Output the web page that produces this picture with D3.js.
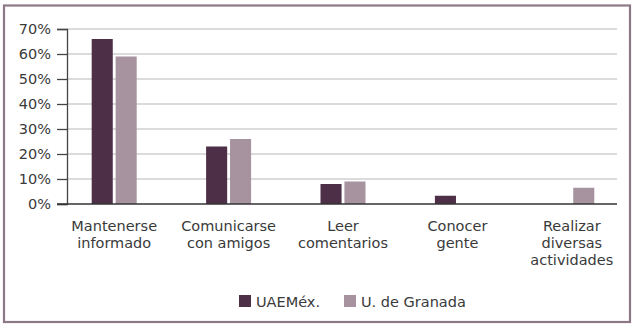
<!DOCTYPE html>
<html><head><meta charset="utf-8">
<script src="https://cdn.jsdelivr.net/npm/d3@7"></script>
<style>body{margin:0;background:#fff}svg{display:block}</style>
</head><body><svg id="c" width="639" height="328"></svg>
<script>
const categories = [["Mantenerse","informado"],["Comunicarse","con amigos"],["Leer","comentarios"],["Conocer","gente"],["Realizar","diversas","actividades"]];
const seriesNames = ["UAEMéx.","U. de Granada"];
const uaemex = [66, 23, 8, 3.3, 0];
const granada = [59, 26, 9, 0, 6.5];
const yTicks = [0,10,20,30,40,50,60,70];
const colors = ["#4d2f48","#a6939f"];

(function(){
const svg = d3.select("#c");
const font = "'DejaVu Sans', sans-serif";
const fs = 14.5;
const textColor = "#3a3a3a";
svg.append("rect").attr("x",4).attr("y",5.5).attr("width",626).attr("height",316.5)
  .attr("fill","none").attr("stroke","#8d7888").attr("stroke-width",2.2);

const pLeft=67, pRight=617, pTop=29, pBottom=204;
const y = d3.scaleLinear().domain([0,70]).range([pBottom,pTop]);
const keys = categories.map((c,i)=>i);
const x = d3.scaleBand().domain(keys).range([57,629]);
const x1 = d3.scaleBand().domain([0,1]).range([0,45]).paddingInner(0.12);

svg.append("g").selectAll("line").data(yTicks.filter(t=>t>0)).join("line")
  .attr("x1",pLeft).attr("x2",pRight).attr("y1",d=>y(d)).attr("y2",d=>y(d))
  .attr("stroke","#cfcfcf").attr("stroke-width",1.3);

const yAxis = d3.axisLeft(y).tickValues(yTicks).tickFormat(d=>d+"%").tickSize(10).tickPadding(6);
const ga = svg.append("g").attr("transform",`translate(${pLeft},0)`).call(yAxis);
ga.select(".domain").attr("stroke","#444").attr("stroke-width",1.3);
ga.selectAll(".tick line").attr("stroke","#444").attr("stroke-width",1.3);
ga.selectAll("text").attr("font-family",font).attr("font-size",fs).attr("fill",textColor);

const bars = [];
keys.forEach(i=>{ [uaemex[i],granada[i]].forEach((v,s)=>{ if(v>0) bars.push({i,s,v}); }); });
svg.append("g").selectAll("rect").data(bars).join("rect")
  .attr("x",d=>x(d.i)+x.bandwidth()/2-22.5+x1(d.s)).attr("width",x1.bandwidth())
  .attr("y",d=>y(d.v)).attr("height",d=>pBottom-y(d.v))
  .attr("fill",d=>colors[d.s]);

svg.append("line").attr("x1",57).attr("x2",pRight).attr("y1",pBottom).attr("y2",pBottom)
  .attr("stroke","#333").attr("stroke-width",1.5);

const lab = svg.append("g").selectAll("text").data(categories).join("text")
  .attr("x",(d,i)=>x(i)+x.bandwidth()/2).attr("y",231)
  .attr("text-anchor","middle").attr("font-family",font).attr("font-size",fs).attr("fill",textColor);
lab.each(function(d,i){
  const cx = x(i)+x.bandwidth()/2;
  d3.select(this).selectAll("tspan").data(d).join("tspan")
    .attr("x",cx).attr("dy",(t,j)=>j===0?0:17).text(t=>t);
});

const legX = [239, 344];
const leg = svg.append("g").selectAll("g").data(seriesNames).join("g")
  .attr("transform",(d,i)=>`translate(${legX[i]},295)`);
leg.append("rect").attr("width",12).attr("height",12).attr("fill",(d,i)=>colors[i]);
leg.append("text").attr("x",17).attr("y",12).attr("font-family",font).attr("font-size",fs)
  .attr("fill",textColor).text(d=>d);
})();
</script></body></html>
